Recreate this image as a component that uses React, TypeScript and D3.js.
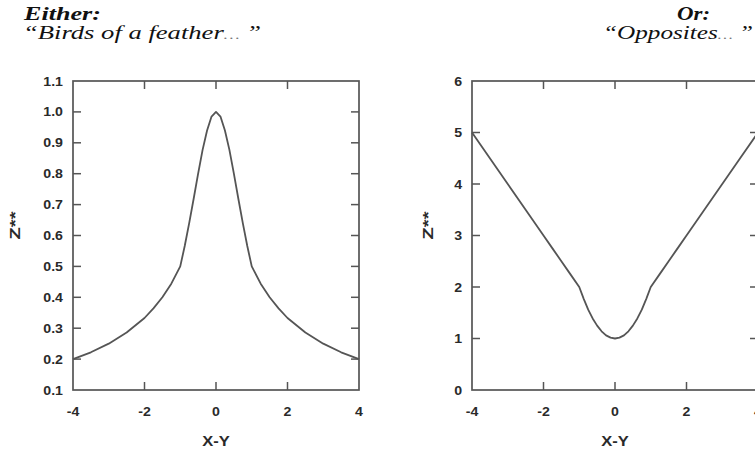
import React from "react";
import * as d3 from "d3";

// values (X-Y vs Z**)
const xValues = [
  -4, -3.5, -3, -2.5, -2, -1.75, -1.5, -1.25, -1, -0.875, -0.75, -0.625, -0.5, -0.375, -0.25, -0.125, 0,
  0.125, 0.25, 0.375, 0.5, 0.625, 0.75, 0.875, 1, 1.25, 1.5, 1.75, 2, 2.5, 3, 3.5, 4,
];
const birdsValues = [
  0.2, 0.222, 0.25, 0.286, 0.333, 0.364, 0.4, 0.444, 0.5, 0.566, 0.64, 0.719, 0.8, 0.877, 0.94, 0.985, 1.0,
  0.985, 0.94, 0.877, 0.8, 0.719, 0.64, 0.566, 0.5, 0.444, 0.4, 0.364, 0.333, 0.286, 0.25, 0.222, 0.2,
];
const oppositesValues = [
  5, 4.5, 4, 3.5, 3, 2.75, 2.5, 2.25, 2, 1.77, 1.56, 1.39, 1.25, 1.14, 1.06, 1.016, 1,
  1.016, 1.06, 1.14, 1.25, 1.39, 1.56, 1.77, 2, 2.25, 2.5, 2.75, 3, 3.5, 4, 4.5, 5,
];

const xTicks = [-4, -2, 0, 2, 4];
const birdsTicks = [0.1, 0.2, 0.3, 0.4, 0.5, 0.6, 0.7, 0.8, 0.9, 1.0, 1.1];
const oppositesTicks = [0, 1, 2, 3, 4, 5, 6];

const W = 755;
const H = 450;
const plotW = 286;
const plotH = 309;
const plotTop = 81;
const tickLen = 8;
const ink = "#555";
const textInk = "#2a2a2a";
const sans = "'Liberation Sans', Arial, sans-serif";
const serif = "'Liberation Serif', 'Times New Roman', serif";

// sans label, a little wider than the font, as in the scan
function Label({ x, y, anchor, size, children }: any) {
  return (
    <text
      transform={`translate(${x},${y}) scale(1.18,1)`}
      textAnchor={anchor}
      fontFamily={sans}
      fontWeight="bold"
      fontSize={size}
      fill={textInk}
    >
      {children}
    </text>
  );
}

function Panel({ left, values, yTicks, yDomain, fmt, yLabelX }: any) {
  const x = d3.scaleLinear().domain([-4, 4]).range([0, plotW]);
  const y = d3.scaleLinear().domain(yDomain).range([plotH, 0]);
  const path = d3
    .line<number>()
    .x((d, i) => x(xValues[i]))
    .y((d) => y(d))(values);

  return (
    <g>
      <text
        transform={`translate(${yLabelX},${plotTop + plotH / 2 - 10}) rotate(-90)`}
        textAnchor="middle"
        fontFamily={sans}
        fontWeight="bold"
        fontSize={15}
        fill={textInk}
        textLength={28}
        lengthAdjust="spacingAndGlyphs"
      >
        Z**
      </text>
      <g transform={`translate(${left},${plotTop})`}>
        <rect x={0} y={0} width={plotW} height={plotH} fill="none" stroke={ink} strokeWidth={1.7} />
        {xTicks.slice(1, -1).map((t) => (
          <g key={"xt" + t}>
            <line x1={x(t)} x2={x(t)} y1={plotH} y2={plotH - tickLen} stroke={ink} strokeWidth={1.5} />
            <line x1={x(t)} x2={x(t)} y1={0} y2={tickLen} stroke={ink} strokeWidth={1.5} />
          </g>
        ))}
        {xTicks.map((t) => (
          <Label key={"xl" + t} x={x(t)} y={plotH + 26} anchor="middle" size={12}>
            {t}
          </Label>
        ))}
        {yTicks.map((t: number) => (
          <g key={"yt" + t}>
            {t !== yDomain[0] && t !== yDomain[1] && (
              <>
                <line x1={0} x2={tickLen} y1={y(t)} y2={y(t)} stroke={ink} strokeWidth={1.5} />
                <line x1={plotW} x2={plotW - tickLen} y1={y(t)} y2={y(t)} stroke={ink} strokeWidth={1.5} />
              </>
            )}
            <Label x={-10} y={y(t) + 4.5} anchor="end" size={12}>
              {fmt(t)}
            </Label>
          </g>
        ))}
        <path d={path || ""} fill="none" stroke={ink} strokeWidth={1.8} strokeLinejoin="round" />
        <Label x={plotW / 2} y={plotH + 56} anchor="middle" size={14}>
          X-Y
        </Label>
      </g>
    </g>
  );
}

export default function App() {
  return (
    <svg width={W} height={H} style={{ position: "fixed", left: 0, top: 0, background: "#fff" }}>
      <text
        x={24}
        y={20}
        fontFamily={serif}
        fontStyle="italic"
        fontWeight="bold"
        fontSize={18}
        fill="#111"
        textLength={77}
        lengthAdjust="spacingAndGlyphs"
      >
        Either:
      </text>
      <text
        x={23}
        y={39}
        fontFamily={serif}
        fontStyle="italic"
        fontSize={18}
        fill="#111"
        textLength={238}
        lengthAdjust="spacingAndGlyphs"
      >
        “Birds of a feather<tspan fontSize={12} fill="#777">…</tspan> ”
      </text>
      <text
        x={677}
        y={20}
        fontFamily={serif}
        fontStyle="italic"
        fontWeight="bold"
        fontSize={18}
        fill="#111"
        textLength={33}
        lengthAdjust="spacingAndGlyphs"
      >
        Or:
      </text>
      <text
        x={603}
        y={39}
        fontFamily={serif}
        fontStyle="italic"
        fontSize={18}
        fill="#111"
        textLength={150}
        lengthAdjust="spacingAndGlyphs"
      >
        “Opposites<tspan fontSize={12} fill="#777">…</tspan> ”
      </text>
      <Panel
        left={73}
        values={birdsValues}
        yTicks={birdsTicks}
        yDomain={[0.1, 1.1]}
        fmt={(t: number) => t.toFixed(1)}
        yLabelX={20}
      />
      <Panel
        left={472}
        values={oppositesValues}
        yTicks={oppositesTicks}
        yDomain={[0, 6]}
        fmt={(t: number) => String(t)}
        yLabelX={433}
      />
    </svg>
  );
}
